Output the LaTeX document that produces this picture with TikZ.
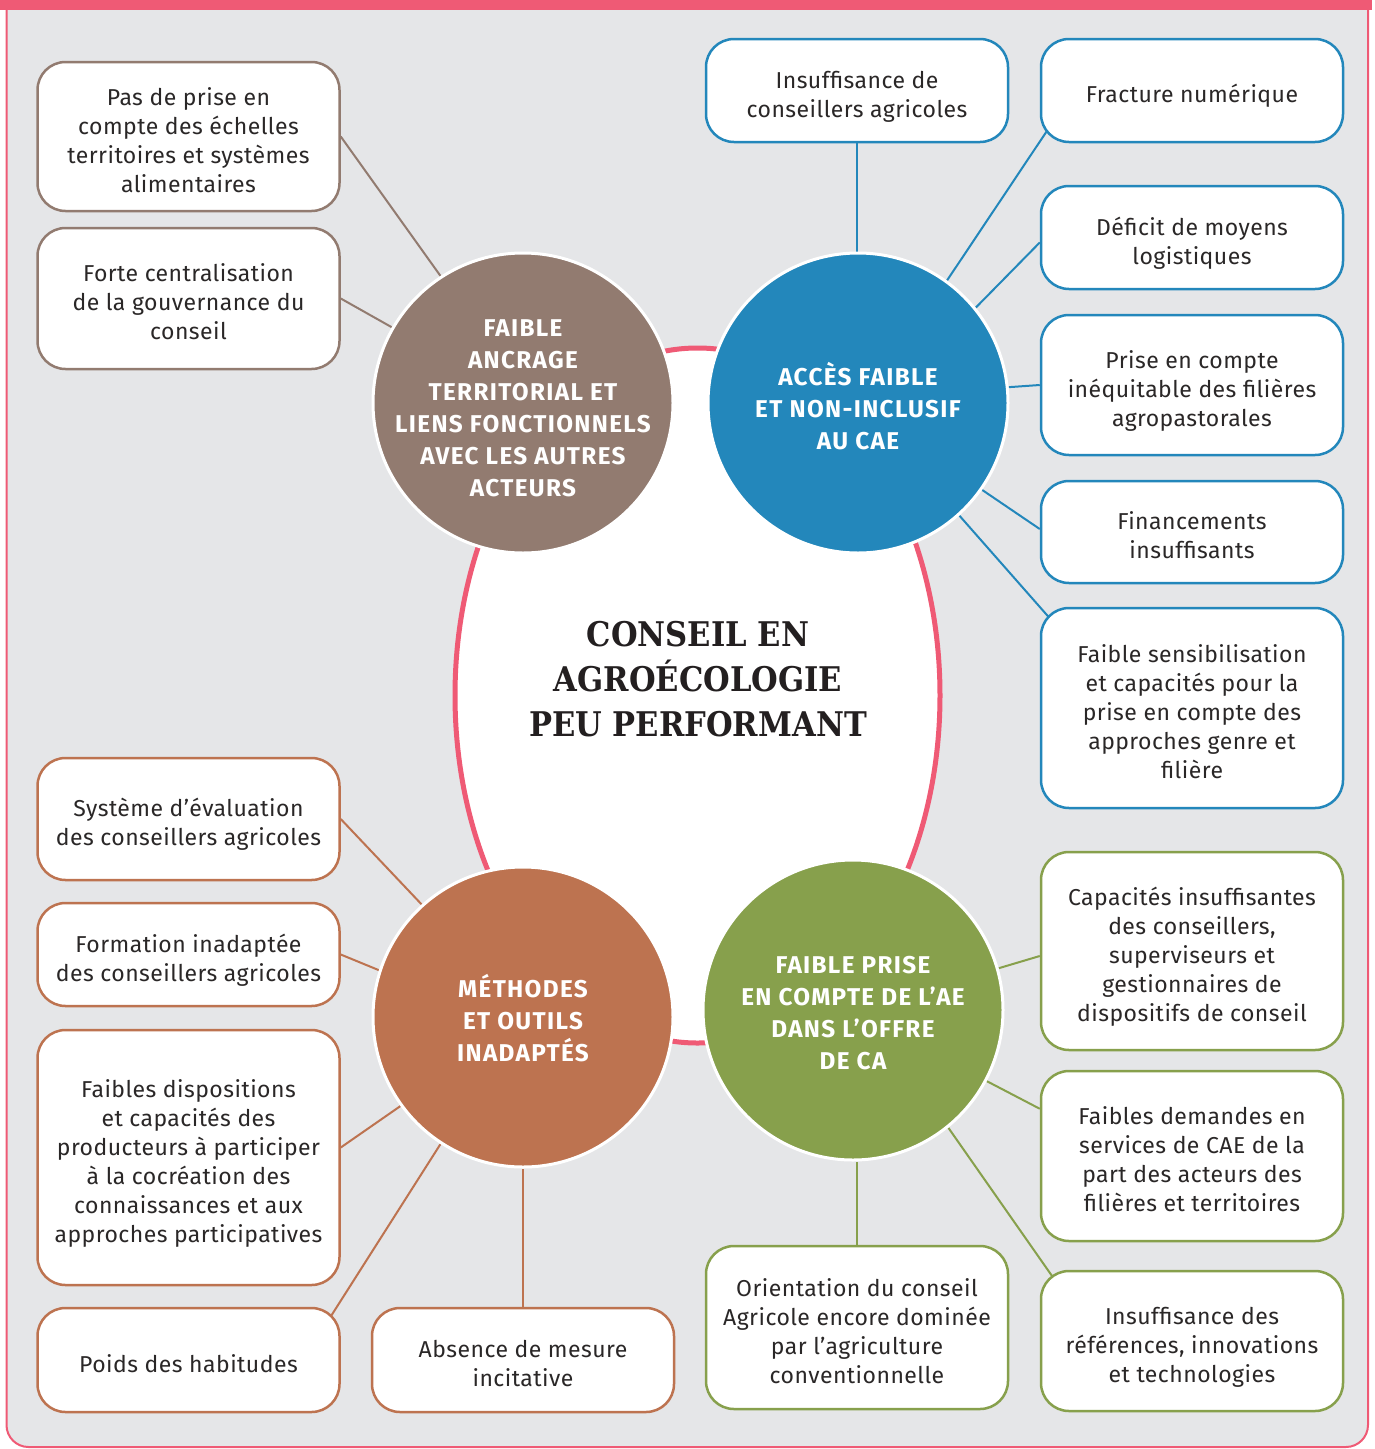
\documentclass[tikz,border=0pt]{standalone}
\usepackage{fontspec}
\setmainfont{Fira Sans}
\newfontfamily\titlefont[FakeStretch=0.9]{DejaVu Serif}
\newfontfamily\boxfont[LetterSpace=2]{Fira Sans}
\newfontfamily\hubfont[LetterSpace=5.5]{Fira Sans}
\pgfdeclarelayer{bg}
\pgfdeclarelayer{lines}
\pgfsetlayers{bg,lines,main}

\definecolor{bgray}{RGB}{229,230,232}
\definecolor{rose}{RGB}{239,90,117}
\definecolor{cbrown}{RGB}{146,123,112}
\definecolor{cblue}{RGB}{35,135,187}
\definecolor{crust}{RGB}{189,115,80}
\definecolor{cgreen}{RGB}{135,160,76}
\definecolor{txt}{RGB}{42,39,39}
\definecolor{ttl}{RGB}{35,31,32}

% text height per line count: (n-1)*29pt + 24pt, so that the line boxes
% (not the ink) are centred in each box
\tikzset{
  box/.style={draw, fill=white, rounded corners=28pt, line width=2.5pt,
    align=center, inner sep=0pt, text=txt, minimum width=302pt,
    text depth=0pt,
    font=\boxfont\fontsize{23}{29}\selectfont},
  l1/.style={text height=24pt},
  l2/.style={text height=53pt},
  l3/.style={text height=82pt},
  l4/.style={text height=111pt},
  l5/.style={text height=140pt},
  l6/.style={text height=169pt},
  hub/.style={circle, draw=white, line width=3pt, minimum size=300pt, inner sep=0pt},
  hubtext/.style={align=center, text=white, inner sep=0pt,
    font=\hubfont\bfseries\fontsize{24.3}{32}\selectfont},
  link/.style={line width=2pt},
}

\begin{document}
\begin{tikzpicture}[x=1pt,y=-1pt]
\useasboundingbox (0,0) rectangle (1375,1449);

% frame and central ellipse
\begin{pgfonlayer}{bg}
  \draw[fill=bgray, draw=rose, line width=2pt, rounded corners=22pt]
    (6.5,-40) rectangle (1368,1447);
  \fill[rose] (0,0) rectangle (1372,10);
  \draw[rose, line width=5pt, fill=white] (697.5,695.5) ellipse [x radius=242.5pt, y radius=347.5pt];
\end{pgfonlayer}

% central title
\node[align=center, text=ttl, font=\titlefont\bfseries\fontsize{34}{45}\selectfont] (title) at (698,679)
  {CONSEIL EN\\AGROÉCOLOGIE\\PEU PERFORMANT};

% hubs
\node[hub, fill=cbrown] (brown) at (523,403) {};
\node[hubtext] (brown-t) at (523,408) {FAIBLE\\ANCRAGE\\TERRITORIAL ET\\LIENS FONCTIONNELS\\AVEC LES AUTRES\\ACTEURS};
\node[hub, fill=cblue] (blue) at (858,403) {};
\node[hubtext] (blue-t) at (858,406) {ACCÈS FAIBLE\\ET NON-INCLUSIF\\AU CAE};
\node[hub, fill=crust] (rust) at (523,1017) {};
\node[hubtext] (rust-t) at (523,1018) {MÉTHODES\\ET OUTILS\\INADAPTÉS};
\node[hub, fill=cgreen] (green) at (853,1010) {};
\node[hubtext] (green-t) at (853,1013) {FAIBLE PRISE\\EN COMPTE DE L’AE\\DANS L’OFFRE\\DE CA};

% brown boxes
\node[box, l4, draw=cbrown, minimum height=149pt] (b1) at (188.5,136.5)
  {Pas de prise en\\compte des échelles\\territoires et systèmes\\alimentaires};
\node[box, l3, draw=cbrown, minimum height=141pt] (b2) at (188.5,298.5)
  {Forte centralisation\\de la gouvernance du\\conseil};

% blue boxes
\node[box, l2, draw=cblue, minimum height=103pt] (ins) at (857,90.5)
  {Insuffisance de\\conseillers agricoles};
\node[box, l1, draw=cblue, minimum height=103pt] (fn) at (1192,90.5)
  {Fracture numérique};
\node[box, l2, draw=cblue, minimum height=103pt] (def) at (1192,237.5)
  {Déficit de moyens\\logistiques};
\node[box, l3, draw=cblue, minimum height=140pt] (pri) at (1192,385)
  {Prise en compte\\inéquitable des filières\\agropastorales};
\node[box, l2, draw=cblue, minimum height=102pt] (fin) at (1192,532)
  {Financements\\insuffisants};
\node[box, l5, draw=cblue, minimum height=200pt] (fs) at (1192,708)
  {Faible sensibilisation\\et capacités pour la\\prise en compte des\\approches genre et\\filière};

% green boxes
\node[box, l5, draw=cgreen, minimum height=198pt] (cap) at (1192,951)
  {Capacités insuffisantes\\des conseillers,\\superviseurs et\\gestionnaires de\\dispositifs de conseil};
\node[box, l4, draw=cgreen, minimum height=170pt] (fd) at (1192,1156)
  {Faibles demandes en\\services de CAE de la\\part des acteurs des\\filières et territoires};
\node[box, l3, draw=cgreen, minimum height=140pt] (isd) at (1192,1341)
  {Insuffisance des\\références, innovations\\et technologies};
\node[box, l4, draw=cgreen, minimum height=163pt] (ori) at (857,1327.5)
  {Orientation du conseil\\Agricole encore dominée\\par l’agriculture\\conventionnelle};

% rust boxes
\node[box, l2, draw=crust, minimum height=122pt] (o1) at (188.5,819)
  {Système d’évaluation\\des conseillers agricoles};
\node[box, l2, draw=crust, minimum height=103pt] (o2) at (188.5,954.5)
  {Formation inadaptée\\des conseillers agricoles};
\node[box, l6, draw=crust, minimum height=255pt] (o3) at (188.5,1157.5)
  {Faibles dispositions\\et capacités des\\producteurs à participer\\à la cocréation des\\connaissances et aux\\approches participatives};
\node[box, l1, draw=crust, minimum height=104pt] (o4) at (188.5,1360)
  {Poids des habitudes};
\node[box, l2, draw=crust, minimum height=104pt] (o5) at (523,1360)
  {Absence de mesure\\incitative};

% connectors
\begin{pgfonlayer}{lines}
  \draw[link, cbrown] (brown.123.5) -- (b1.east);
  \draw[link, cbrown] (brown.150.7) -- (b2.east);

  \draw[link, cblue] (ins.south) -- (ins.south |- blue.north);
  \draw[link, cblue] (blue.54.8) -- ([xshift=19pt,yshift=30pt]fn.south west);
  \draw[link, cblue] (blue.39.4) -- ([yshift=-5pt]def.west);
  \draw[link, cblue] (blue.6.8) -- (pri.west);
  \draw[link, cblue] (blue.-35.4) -- ([yshift=3pt]fin.west);
  \draw[link, cblue] (blue.-48.5) -- ([xshift=21pt,yshift=-24pt]fs.north west);

  \draw[link, cgreen] (green.16.9) -- ([yshift=-5pt]cap.west);
  \draw[link, cgreen] (green.-28.4) -- ([yshift=-39pt]fd.north west);
  \draw[link, cgreen] (green.-51.5) -- ([xshift=24pt,yshift=-23pt]isd.north west);
  \draw[link, cgreen] (ori.north) -- (ori.north |- green.south);

  \draw[link, crust] (rust.132.8) -- (o1.east);
  \draw[link, crust] (rust.162.3) -- (o2.east);
  \draw[link, crust] (rust.216.3) -- ([yshift=10pt]o3.east);
  \draw[link, crust] (rust.237.6) -- ([xshift=-21pt,yshift=-27pt]o4.north east);
  \draw[link, crust] (o5.north) -- (o5.north |- rust.south);
\end{pgfonlayer}
\end{tikzpicture}
\end{document}
